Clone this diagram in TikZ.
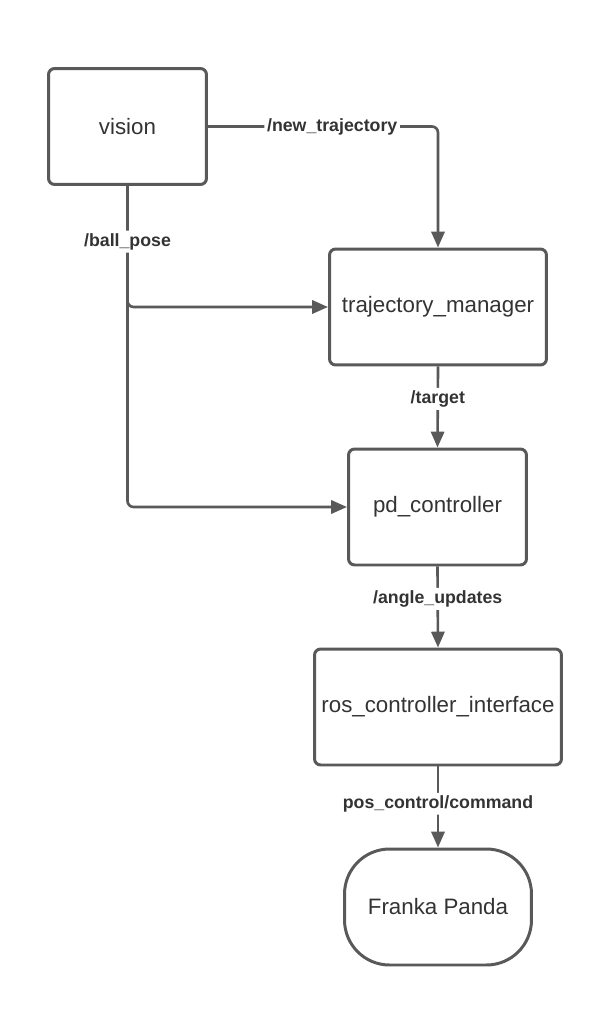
\documentclass[tikz,border=0pt]{standalone}
\usepackage{fontspec}
\setmainfont{Liberation Sans}
\usetikzlibrary{arrows.meta}
\definecolor{linegray}{HTML}{595959}
\definecolor{textgray}{HTML}{333333}
\tikzset{
  rosnode/.style={draw=linegray, line width=1.7pt, rounded corners=3.5pt, text=textgray,
    minimum height=2.32cm, font=\fontsize{12.7}{15}\selectfont},
  topic/.style={-{Triangle[length=9pt,width=7.5pt]}, draw=linegray, line width=1.5pt, rounded corners=3.5pt},
  topiclabel/.style={fill=white, text=textgray, inner sep=1.5pt, font=\bfseries\fontsize{10.1}{12}\selectfont},
}
\begin{document}
\begin{tikzpicture}[x=0.02cm, y=-0.02cm]
			\useasboundingbox (0,0) rectangle (611,1034);

			% Nodes
			\node[rosnode, minimum width=3.16cm] (vision) at (127.5,126.5) {vision};
			\node[rosnode, minimum width=4.34cm] (trajmanager) at (438,307) {trajectory\_manager};
			\node[rosnode, minimum width=3.56cm] (pdcontroller) at (437.5,507) {pd\_controller};
			\node[rosnode, minimum width=4.94cm] (rosinterface) at (438,707) {ros\_controller\_interface};
			\node[rosnode, minimum width=3.74cm, rounded corners=0.9cm] (franka) at (438,907) {Franka Panda};

			% Topics
			\draw[topic] (vision.east) -| node[topiclabel, pos=0.27] {/new\_trajectory} (trajmanager.north);
			\draw[topic] (vision.south) |- (pdcontroller.west);
			\draw[topic] (vision.south) |- node[topiclabel, pos=0.23] {/ball\_pose} (trajmanager.west);
			\draw[topic] (trajmanager.south) -- node[topiclabel, pos=0.4] {/target} (pdcontroller.north);
			\draw[topic] (pdcontroller.south) -- node[topiclabel, pos=0.4] {/angle\_updates} (rosinterface.north);
			\draw[topic] (rosinterface.south) -- node[topiclabel, pos=0.46] {pos\_control/command} (franka.north);
		\end{tikzpicture}
\end{document}
